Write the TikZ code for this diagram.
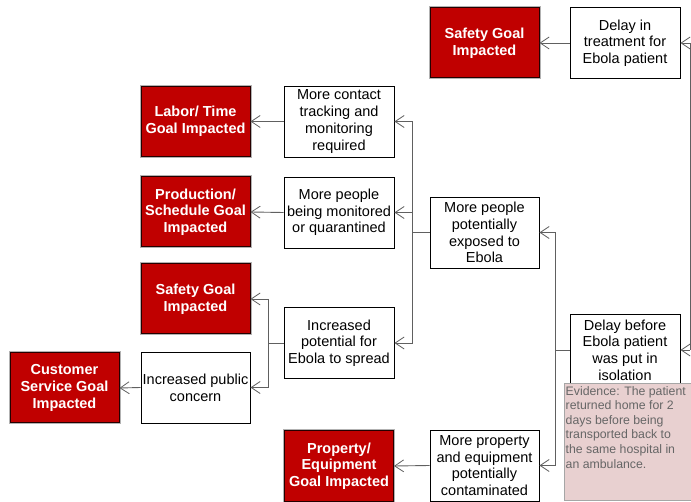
\documentclass[tikz,border=0pt]{standalone}
\usepackage{fontspec}
\setmainfont{Liberation Sans}
\usetikzlibrary{arrows.meta}
\definecolor{goalred}{HTML}{C00000}
\definecolor{evfill}{HTML}{E8D0D0}
\definecolor{evtext}{HTML}{666666}
\definecolor{linegray}{HTML}{606060}
\tikzset{
  txt/.style={font=\fontsize{14.5}{16.7}\selectfont, execute at begin node={\rule{0pt}{14.5pt}}},
  cause/.style={txt, draw=black, line width=0.9pt, fill=white, align=center,
    minimum width=110pt, minimum height=71pt, inner sep=1pt},
  goal/.style={txt, font=\fontsize{14.5}{16.7}\selectfont\bfseries, text=white,
    fill=goalred, draw=black!80!goalred, line width=1pt, align=center,
    minimum width=109pt, minimum height=70pt, inner sep=1pt,
    preaction={draw=gray!60, line width=3pt}},
  conn/.style={draw=linegray, line width=0.9pt, -{Straight Barb[length=9pt,width=12pt,line width=0.8pt]}},
  wire/.style={draw=linegray, line width=0.9pt},
  evbox/.style={draw=gray!70, fill=evfill, line width=0.8pt},
}
\begin{document}
\begin{tikzpicture}[x=1pt,y=-1pt]
\useasboundingbox (0,0) rectangle (691,502);
% goals
\node[goal] (safety1) at (484.5,43) {Safety Goal\\Impacted};
\node[goal] (labor) at (195.5,121.5) {Labor/ Time\\Goal Impacted};
\node[goal] (production) at (195.5,212) {Production/\\Schedule Goal\\Impacted};
\node[goal] (safety2) at (195.5,299) {Safety Goal\\Impacted};
\node[goal] (customer) at (64.5,388) {Customer\\Service Goal\\Impacted};
\node[goal] (property) at (339,466) {Property/\\Equipment\\Goal Impacted};
% causes
\node[cause] (delaytreat) at (625,43) {Delay in\\treatment for\\Ebola patient};
\node[cause] (contact) at (339,121.5) {More contact\\tracking and\\monitoring\\required};
\node[cause] (monitored) at (339,212.5) {More people\\being monitored\\or quarantined};
\node[cause, minimum width=109pt] (exposed) at (484.5,232.5) {More people\\potentially\\exposed to\\Ebola};
\node[cause] (potential) at (339,343) {Increased\\potential for\\Ebola to spread};
\node[cause, minimum width=109pt] (concern) at (195.5,387.5) {Increased public\\concern};
\node[cause] (delaybefore) at (625,350) {Delay before\\Ebola patient\\was put in\\isolation};
\node[cause, minimum width=109pt] (contaminated) at (484.5,465.5) {More property\\and equipment\\potentially\\contaminated};
% evidence note
\draw[evbox] (564,383) rectangle (693,500);
\node[anchor=north west, inner sep=0pt, align=left, text=evtext,
  font=\fontsize{12.3}{14.6}\selectfont] (evidence) at (565.5,386)
  {Evidence: The patient\\returned home for 2\\days before being\\transported back to\\the same hospital in\\an ambulance.};
% connectors
\coordinate (rtop) at (690,43);
\coordinate (rbot) at (690,350);
\draw[wire] (rtop) -- (rbot);
\draw[conn] (rtop) -- (delaytreat.east);
\draw[conn] (rbot) -- (delaybefore.east);
\draw[conn] (delaytreat.west) -- (safety1.east);

\coordinate (f1) at (555,350);
\draw[wire] (delaybefore.west) -- (f1);
\draw[conn] (f1) |- (exposed.east);
\draw[conn] (f1) |- (contaminated.east);
\draw[conn] (contaminated.west) -- (property.east);

\coordinate (f2) at (412,232.5);
\draw[wire] (exposed.west) -- (f2);
\draw[conn] (f2) |- (contact.east);
\draw[conn] (f2) |- (monitored.east);
\draw[conn] (f2) |- (potential.east);
\draw[conn] (contact.west) -- (labor.east);
\draw[conn] (monitored.west) -- (production.east);

\coordinate (f3) at (268,343);
\draw[wire] (potential.west) -- (f3);
\draw[conn] (f3) |- (safety2.east);
\draw[conn] (f3) |- (concern.east);
\draw[conn] (concern.west) -- (customer.east);
\end{tikzpicture}
\end{document}
